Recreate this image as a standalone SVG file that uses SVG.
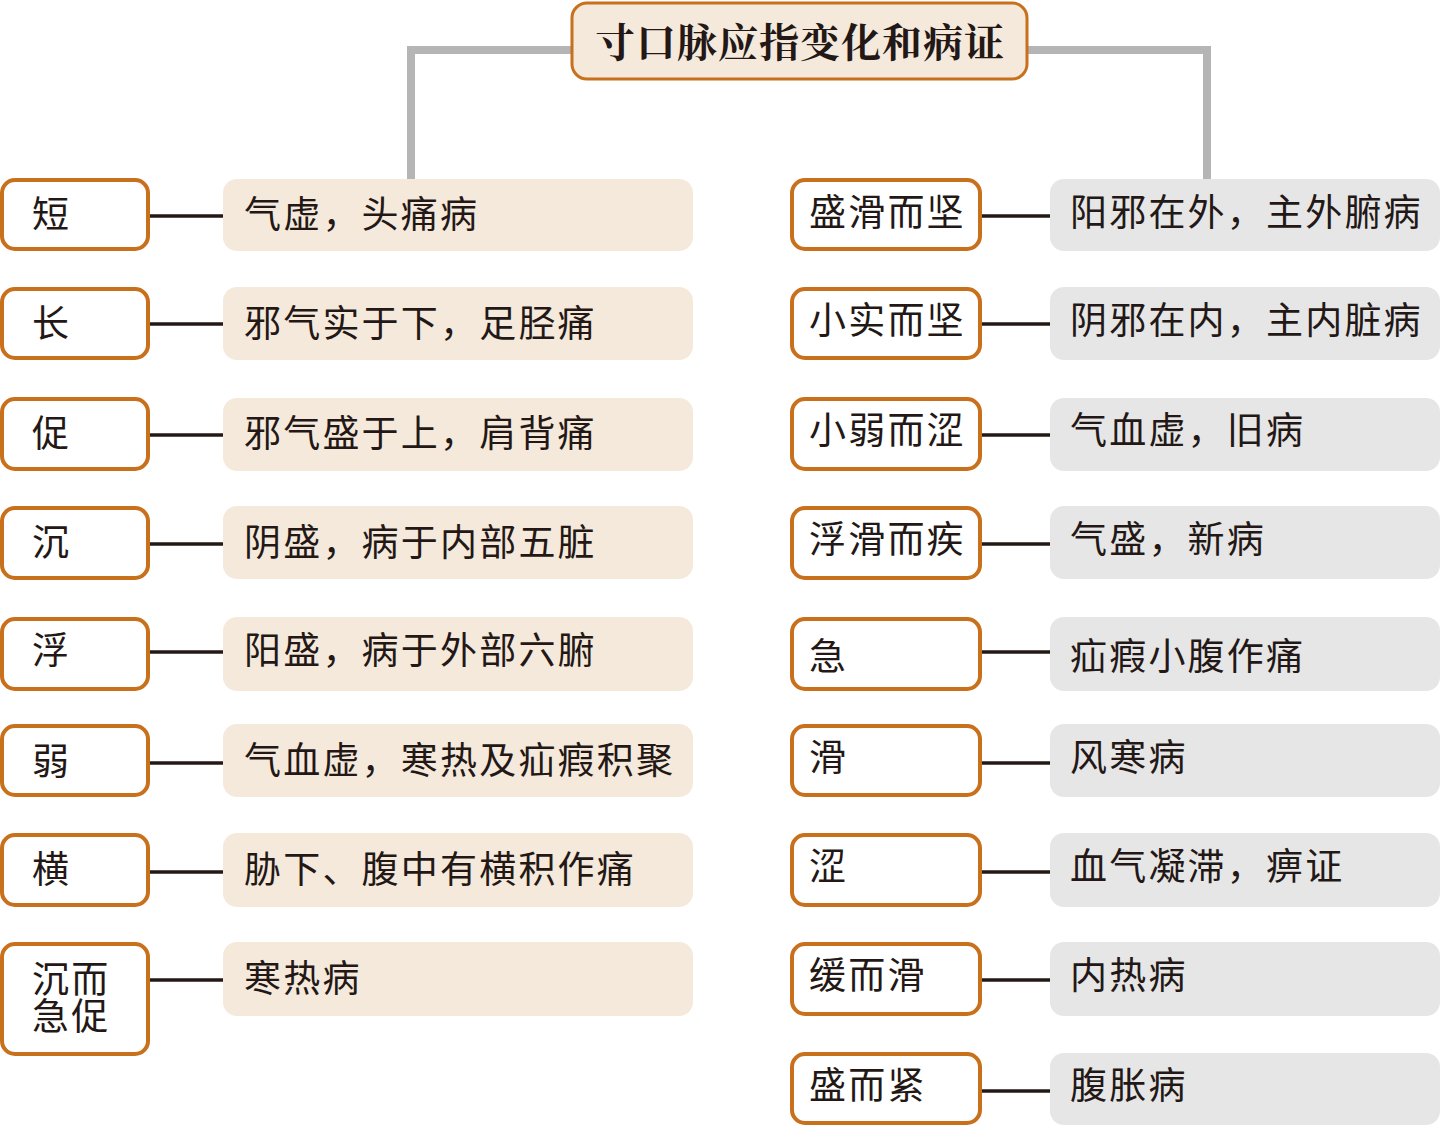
<svg xmlns="http://www.w3.org/2000/svg" width="1442" height="1126" viewBox="0 0 1442 1126">
<style>
.node{fill:#ffffff;stroke:#c8701c;stroke-width:4}
.ld{fill:#f5e9dc}
.rd{fill:#e6e6e7}
.t{font-family:"Noto Sans CJK SC","Noto Sans",sans-serif;font-size:37px;fill:#231815;letter-spacing:2.2px}
.title{font-family:"Noto Serif CJK SC","Noto Sans CJK SC",serif;font-size:40px;font-weight:bold;fill:#231815;letter-spacing:1px}
.c{stroke:#231815;stroke-width:3.5;fill:none}
.g{stroke:#b5b5b5;stroke-width:8;fill:none}
</style>
<g id="connectors">
<path class="g" d="M411,180 V50 H572"/>
<path class="g" d="M1027,50 H1207 V180"/>
<line class="c" x1="148" y1="216" x2="224" y2="216"/>
<line class="c" x1="148" y1="324" x2="224" y2="324"/>
<line class="c" x1="148" y1="435" x2="224" y2="435"/>
<line class="c" x1="148" y1="544" x2="224" y2="544"/>
<line class="c" x1="148" y1="652" x2="224" y2="652"/>
<line class="c" x1="148" y1="763" x2="224" y2="763"/>
<line class="c" x1="148" y1="872" x2="224" y2="872"/>
<line class="c" x1="148" y1="980" x2="224" y2="980"/>
<line class="c" x1="980" y1="216" x2="1051" y2="216"/>
<line class="c" x1="980" y1="324" x2="1051" y2="324"/>
<line class="c" x1="980" y1="435" x2="1051" y2="435"/>
<line class="c" x1="980" y1="544" x2="1051" y2="544"/>
<line class="c" x1="980" y1="652" x2="1051" y2="652"/>
<line class="c" x1="980" y1="763" x2="1051" y2="763"/>
<line class="c" x1="980" y1="872" x2="1051" y2="872"/>
<line class="c" x1="980" y1="980" x2="1051" y2="980"/>
<line class="c" x1="980" y1="1091" x2="1051" y2="1091"/>
</g>
<g id="title">
<rect x="572" y="3" width="455" height="76" rx="15" fill="#f5e9dc" stroke="#c8701c" stroke-width="3"/>
<text class="title" x="800" y="57" text-anchor="middle">寸口脉应指变化和病证</text>
</g>
<g id="n-duan"><rect class="node" x="2" y="180" width="146" height="69" rx="13"/><text class="t" x="32" y="228">短</text></g>
<g id="d-duan"><rect class="ld" x="223" y="179" width="470" height="72" rx="14"/><text class="t" x="244" y="228">气虚，头痛病</text></g>
<g id="n-chang"><rect class="node" x="2" y="289" width="146" height="69" rx="13"/><text class="t" x="32" y="337">长</text></g>
<g id="d-chang"><rect class="ld" x="223" y="287" width="470" height="73" rx="14"/><text class="t" x="244" y="337">邪气实于下，足胫痛</text></g>
<g id="n-cu"><rect class="node" x="2" y="399" width="146" height="70" rx="13"/><text class="t" x="32" y="447">促</text></g>
<g id="d-cu"><rect class="ld" x="223" y="398" width="470" height="73" rx="14"/><text class="t" x="244" y="447">邪气盛于上，肩背痛</text></g>
<g id="n-chen"><rect class="node" x="2" y="508" width="146" height="70" rx="13"/><text class="t" x="32" y="556">沉</text></g>
<g id="d-chen"><rect class="ld" x="223" y="506" width="470" height="73" rx="14"/><text class="t" x="244" y="556">阴盛，病于内部五脏</text></g>
<g id="n-fu"><rect class="node" x="2" y="619" width="146" height="70" rx="13"/><text class="t" x="32" y="664">浮</text></g>
<g id="d-fu"><rect class="ld" x="223" y="617" width="470" height="74" rx="14"/><text class="t" x="244" y="664">阳盛，病于外部六腑</text></g>
<g id="n-ruo"><rect class="node" x="2" y="726" width="146" height="69" rx="13"/><text class="t" x="32" y="775">弱</text></g>
<g id="d-ruo"><rect class="ld" x="223" y="724" width="470" height="73" rx="14"/><text class="t" x="244" y="774">气血虚，寒热及疝瘕积聚</text></g>
<g id="n-heng"><rect class="node" x="2" y="835" width="146" height="70" rx="13"/><text class="t" x="32" y="883">横</text></g>
<g id="d-heng"><rect class="ld" x="223" y="833" width="470" height="74" rx="14"/><text class="t" x="244" y="883">胁下、腹中有横积作痛</text></g>
<g id="n-chenerjicu"><rect class="node" x="2" y="944" width="146" height="110" rx="13"/><text class="t" x="32" y="993">沉而</text><text class="t" x="32" y="1030">急促</text></g>
<g id="d-chenerjicu"><rect class="ld" x="223" y="942" width="470" height="74" rx="14"/><text class="t" x="244" y="992">寒热病</text></g>
<g id="n-r1"><rect class="node" x="792" y="180" width="188" height="69" rx="13"/><text class="t" x="809" y="226">盛滑而坚</text></g>
<g id="d-r1"><rect class="rd" x="1050" y="179" width="390" height="72" rx="14"/><text class="t" x="1070" y="226">阳邪在外，主外腑病</text></g>
<g id="n-r2"><rect class="node" x="792" y="289" width="188" height="69" rx="13"/><text class="t" x="809" y="334">小实而坚</text></g>
<g id="d-r2"><rect class="rd" x="1050" y="287" width="390" height="73" rx="14"/><text class="t" x="1070" y="334">阴邪在内，主内脏病</text></g>
<g id="n-r3"><rect class="node" x="792" y="399" width="188" height="70" rx="13"/><text class="t" x="809" y="444">小弱而涩</text></g>
<g id="d-r3"><rect class="rd" x="1050" y="398" width="390" height="73" rx="14"/><text class="t" x="1070" y="444">气血虚，旧病</text></g>
<g id="n-r4"><rect class="node" x="792" y="508" width="188" height="70" rx="13"/><text class="t" x="809" y="553">浮滑而疾</text></g>
<g id="d-r4"><rect class="rd" x="1050" y="506" width="390" height="73" rx="14"/><text class="t" x="1070" y="553">气盛，新病</text></g>
<g id="n-r5"><rect class="node" x="792" y="619" width="188" height="70" rx="13"/><text class="t" x="809" y="670">急</text></g>
<g id="d-r5"><rect class="rd" x="1050" y="617" width="390" height="74" rx="14"/><text class="t" x="1070" y="670">疝瘕小腹作痛</text></g>
<g id="n-r6"><rect class="node" x="792" y="726" width="188" height="69" rx="13"/><text class="t" x="809" y="771">滑</text></g>
<g id="d-r6"><rect class="rd" x="1050" y="724" width="390" height="73" rx="14"/><text class="t" x="1070" y="771">风寒病</text></g>
<g id="n-r7"><rect class="node" x="792" y="835" width="188" height="70" rx="13"/><text class="t" x="809" y="880">涩</text></g>
<g id="d-r7"><rect class="rd" x="1050" y="833" width="390" height="74" rx="14"/><text class="t" x="1070" y="880">血气凝滞，痹证</text></g>
<g id="n-r8"><rect class="node" x="792" y="944" width="188" height="70" rx="13"/><text class="t" x="809" y="989">缓而滑</text></g>
<g id="d-r8"><rect class="rd" x="1050" y="942" width="390" height="74" rx="14"/><text class="t" x="1070" y="989">内热病</text></g>
<g id="n-r9"><rect class="node" x="792" y="1054" width="188" height="69" rx="13"/><text class="t" x="809" y="1099">盛而紧</text></g>
<g id="d-r9"><rect class="rd" x="1050" y="1053" width="390" height="72" rx="14"/><text class="t" x="1070" y="1099">腹胀病</text></g>
</svg>
